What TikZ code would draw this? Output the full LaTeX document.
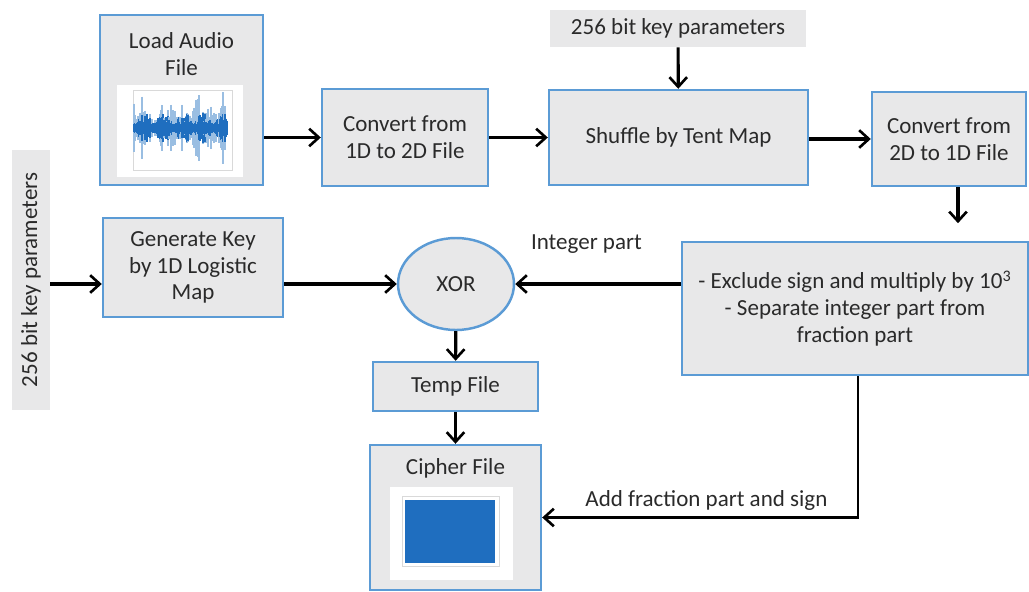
\documentclass[tikz,border=0pt]{standalone}
\usepackage{fontspec}
\setmainfont{Carlito}
\usetikzlibrary{positioning, arrows.meta, shapes.geometric}

\definecolor{boxfill}{HTML}{E8E8E9}
\definecolor{boxline}{HTML}{5B9BD5}
\definecolor{txt}{HTML}{2A2A2A}
\definecolor{wave}{HTML}{1F6EBF}

\begin{document}
\begin{tikzpicture}[
                    x=0.02cm, y=-0.02cm,
                    font=\fontsize{13.1}{15.3}\selectfont,
                    text=txt,
                    box/.style={draw=boxline, line width=1.4pt, fill=boxfill, align=center, inner sep=2pt},
                    keybox/.style={fill=boxfill, inner sep=2pt},
                    >={Straight Barb[length=5.5pt, width=10pt, line width=1.5pt]},
                    arr/.style={->, line width=1.8pt}
                ]
                    \useasboundingbox (0,0) rectangle (1029,592);
                    % top row
                    \node[box, minimum width=3.26cm, minimum height=3.4cm] (load) at (181.5,100) {};
                    \node[anchor=north] (loadT) at (load.north) [yshift=-7pt, align=center] {Load Audio\\File};
                    \node[box, minimum width=3.32cm, minimum height=1.94cm] (todd) at (405,137.5) {Convert from\\1D to 2D File};
                    \node[keybox, minimum width=5.12cm, minimum height=0.74cm] (keyT) at (678,28.5) {256 bit key parameters};
                    \node[box, minimum width=5.18cm, minimum height=1.9cm] (shuffle) at (678.5,137.5) {Shuffle by Tent Map};
                    \node[box, minimum width=3.08cm, minimum height=1.88cm] (tood) at (949,139) {Convert from\\2D to 1D File};
                    % middle row
                    \node[keybox, rotate=90, minimum width=5.2cm, minimum height=0.76cm] (keyL) at (31,280) {256 bit key parameters};
                    \node[box, minimum width=3.6cm, minimum height=1.98cm] (gen) at (193,267.5) {Generate Key\\by 1D Logistic\\Map};
                    \node[box, ellipse, minimum width=2.32cm, minimum height=1.84cm] (xor) at (456,284) {XOR};
                    \node[box, minimum width=6.92cm, minimum height=2.66cm] (sep) at (855,308.5) {- Exclude sign and multiply by 10\textsuperscript{3}\\- Separate integer part from\\fraction part};
                    % bottom
                    \node[box, minimum width=3.3cm, minimum height=0.98cm] (temp) at (455.5,386.5) {Temp File};
                    \node[box, minimum width=3.42cm, minimum height=2.9cm] (cipher) at (455.5,517.5) {};
                    \node[anchor=north] (cipherT) at (cipher.north) [yshift=-5pt] {Cipher File};

                    % audio plot
                    \fill[white] (117,85) rectangle (243,177);
                    \draw[black!15, line width=0.3pt] (133,90) rectangle (232,170);
                    \pgfmathsetseed{11}
                    \foreach \i in {0,...,93} {
                        \pgfmathsetmacro\a{4+12*rnd*abs(sin(\i*9))}
                        \pgfmathsetmacro\b{\a+24*rnd^3}
                        \draw[wave!45, line width=0.6pt] (134+\i,128-\b) -- (134+\i,128+\b);
                        \draw[wave, line width=0.7pt] (134+\i,128-\a) -- (134+\i,128+\a);
                    }
                    % cipher plot
                    \fill[white] (390,487) rectangle (513,580);
                    \draw[black!15, line width=0.3pt] (402,496) rectangle (499,566);
                    \fill[wave] (405,500) rectangle (495,563);

                    \draw[arr] (load.east |- todd) -- (todd);
                    \draw[arr] (todd) -- (shuffle);
                    \draw[arr] (keyT) -- (shuffle);
                    \draw[arr] (shuffle.east |- tood) -- (tood);
                    \draw[arr, shorten >=10pt] (tood.south -| 958,0) -- (sep.north -| 958,0);
                    \draw[arr] (keyL.south |- xor) -- (gen.west |- xor);
                    \draw[arr] (gen.east |- xor) -- (xor);
                    \draw[arr] (sep.west |- xor) -- node[above=13pt, pos=0.57] (intp) {Integer part} (xor);
                    \draw[arr] (xor) -- (temp);
                    \draw[arr] (temp) -- (cipher);
                    \draw[arr, line width=1.3pt] (sep.south -| 858,0) |- node[above, pos=0.74] (fracp) {Add fraction part and sign} (cipher.east);
                \end{tikzpicture}
\end{document}
